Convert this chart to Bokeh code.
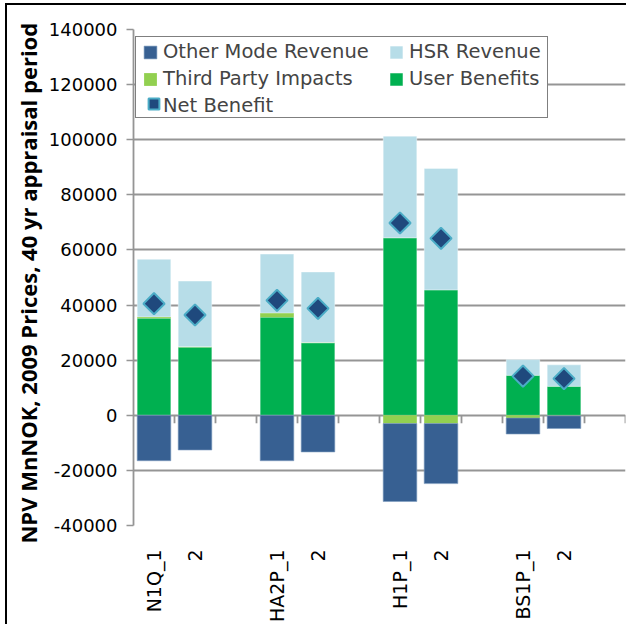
import numpy as np
from bokeh.plotting import figure
from bokeh.models import Range1d, FixedTicker, Legend, LegendItem, NumeralTickFormatter
from bokeh.embed import file_html
from bokeh.resources import INLINE

# ---- data (values in MnNOK) ----
groups = ["N1Q", "HA2P", "H1P", "BS1P"]
bar_labels = ["N1Q_1", "2", "HA2P_1", "2", "H1P_1", "2", "BS1P_1", "2"]
user_benefits = [35200, 24700, 35600, 26200, 64400, 45500, 14500, 10500]
third_party = [500, 200, 1500, 200, -3000, -3000, -1000, -200]
hsr_revenue = [20900, 23800, 21400, 25600, 36900, 44100, 5700, 7800]
other_mode_revenue = [-16500, -12600, -16500, -13300, -28300, -21800, -5800, -4600]
net_benefit = [40500, 36400, 41700, 38800, 69800, 64200, 14200, 13300]
y_ticks = [-40000, -20000, 0, 20000, 40000, 60000, 80000, 100000, 120000, 140000]
y_title = "NPV MnNOK, 2009 Prices,  40 yr appraisal  period"

# ---- layout of category slots: each group = 2 bars + 1 empty slot ----
slots_per_group = 3
n_slots = slots_per_group * len(groups)
slot_idx = np.array([slots_per_group * g + v for g in range(len(groups)) for v in range(2)])
centers = slot_idx + 0.5
bounds = np.arange(1, n_slots + 1)

ub = np.array(user_benefits, dtype=float)
tp = np.array(third_party, dtype=float)
hs = np.array(hsr_revenue, dtype=float)
om = np.array(other_mode_revenue, dtype=float)
pos_tp = np.clip(tp, 0, None)
neg_tp = np.clip(tp, None, 0)

C_OTHER = "#376092"
C_HSR = "#B7DDE8"
C_THIRD = "#92D050"
C_USER = "#00B050"
C_NET_FILL = "#1F497D"
C_NET_LINE = "#4BACC6"
GRID = "#959595"
FONT = "DejaVu Sans"

p = figure(frame_width=492, frame_height=496,
           x_range=Range1d(0, n_slots), y_range=Range1d(y_ticks[0], y_ticks[-1]),
           output_backend="svg", toolbar_location=None,
           min_border_left=126, min_border_right=1, min_border_top=24, min_border_bottom=98)
p.styles = {"margin-left": "5px", "margin-top": "3px",
            "border-left": "2px solid black", "border-top": "2px solid black"}
p.outline_line_color = None
p.background_fill_color = "white"

W = 0.82
r_user = p.vbar(x=centers, bottom=0, top=ub, width=W, fill_color=C_USER,
                line_color="white", line_alpha=0.3, line_width=1)
r_third = p.vbar(x=centers, bottom=np.where(tp > 0, ub, tp), top=np.where(tp > 0, ub + tp, 0),
                 width=W, fill_color=C_THIRD, line_color=None)
r_hsr = p.vbar(x=centers, bottom=ub + pos_tp, top=ub + pos_tp + hs, width=W, fill_color=C_HSR,
               line_color="white", line_alpha=0.4, line_width=1)
r_other = p.vbar(x=centers, bottom=neg_tp + om, top=neg_tp, width=W, fill_color=C_OTHER,
                 line_color="#7F9CC0", line_alpha=0.6, line_width=1)

# zero-line category ticks
p.ray(x=bounds, y=np.zeros(len(bounds)), length=8, angle=-np.pi / 2, length_units="screen",
      line_color=GRID, line_width=1.8)

r_net = p.scatter(x=centers, y=net_benefit, marker="square", angle=np.pi / 4, size=15,
                  fill_color=C_NET_FILL, line_color=C_NET_LINE, line_width=2)
# invisible stand-in renderer for legend entries that show text only
r_blank = p.scatter(x=[], y=[], marker="square", fill_alpha=0, line_alpha=0)

# y axis
p.yaxis.ticker = FixedTicker(ticks=y_ticks)
p.yaxis.formatter = NumeralTickFormatter(format="0")
p.yaxis.axis_line_color = GRID
p.yaxis.axis_line_width = 1.8
p.yaxis.major_tick_line_color = GRID
p.yaxis.major_tick_line_width = 1.5
p.yaxis.major_tick_out = 7
p.yaxis.major_tick_in = 0
p.yaxis.minor_tick_line_color = None
p.yaxis.major_label_text_font = FONT
p.yaxis.major_label_text_font_size = "18px"
p.yaxis.major_label_text_color = "black"
p.yaxis.major_label_standoff = 9
p.yaxis.axis_label = y_title
p.yaxis.axis_label_text_font = "Open Sans"
p.yaxis.axis_label_text_font_style = "bold"
p.yaxis.axis_label_text_font_size = "22px"
p.yaxis.axis_label_text_color = "black"
p.yaxis.axis_label_standoff = 3

# x axis (labels at the bottom, rotated)
p.xaxis.ticker = FixedTicker(ticks=list(centers))
p.xaxis.major_label_overrides = {float(c): lab for c, lab in zip(centers, bar_labels)}
p.xaxis.major_label_orientation = np.pi / 2
p.xaxis.axis_line_color = None
p.xaxis.major_tick_line_color = None
p.xaxis.minor_tick_line_color = None
p.xaxis.major_label_standoff = 18
p.xaxis.major_label_text_font = FONT
p.xaxis.major_label_text_font_size = "19px"
p.xaxis.major_label_text_color = "black"

p.xgrid.visible = False
p.ygrid.grid_line_color = GRID
p.ygrid.grid_line_width = 1.8


def style_legend(lg):
    lg.label_text_font = FONT
    lg.label_text_font_size = "19.5px"
    lg.label_height = 20
    lg.glyph_width = 16
    lg.glyph_height = 16
    lg.label_standoff = 5
    lg.padding = 5
    lg.spacing = 4
    lg.margin = 0
    lg.border_line_color = None
    lg.background_fill_alpha = 0


# legend frame (box only)
leg_box = Legend(items=[LegendItem(label=" ", renderers=[r_blank])], location=(2, 407))
style_legend(leg_box)
leg_box.glyph_width = 1
leg_box.glyph_height = 1
leg_box.label_standoff = 0
leg_box.padding = 0
leg_box.label_width = 410
leg_box.label_height = 80
leg_box.border_line_color = "black"
leg_box.border_line_width = 1.5
leg_box.background_fill_color = "white"
leg_box.background_fill_alpha = 1

# left column
leg_left = Legend(items=[
    LegendItem(label="Other Mode Revenue", renderers=[r_other]),
    LegendItem(label="Third Party Impacts", renderers=[r_third]),
    LegendItem(label="Net Benefit", renderers=[r_blank]),
], location=(9, 408))
style_legend(leg_left)

# right column
leg_right = Legend(items=[
    LegendItem(label="HSR Revenue", renderers=[r_hsr]),
    LegendItem(label="User Benefits", renderers=[r_user]),
    LegendItem(label=" ", renderers=[r_blank]),
], location=(255, 411))
style_legend(leg_right)

# large diamond marker for Net Benefit in the legend
leg_net = Legend(items=[LegendItem(label=" ", renderers=[r_net])], location=(7, 408))
style_legend(leg_net)
leg_net.glyph_width = 27
leg_net.glyph_height = 27
leg_net.label_height = 27
leg_net.padding = 0
leg_net.label_standoff = 0

for lg in (leg_box, leg_left, leg_right, leg_net):
    p.add_layout(lg, "center")

open("out.html", "w").write(file_html(p, INLINE))
